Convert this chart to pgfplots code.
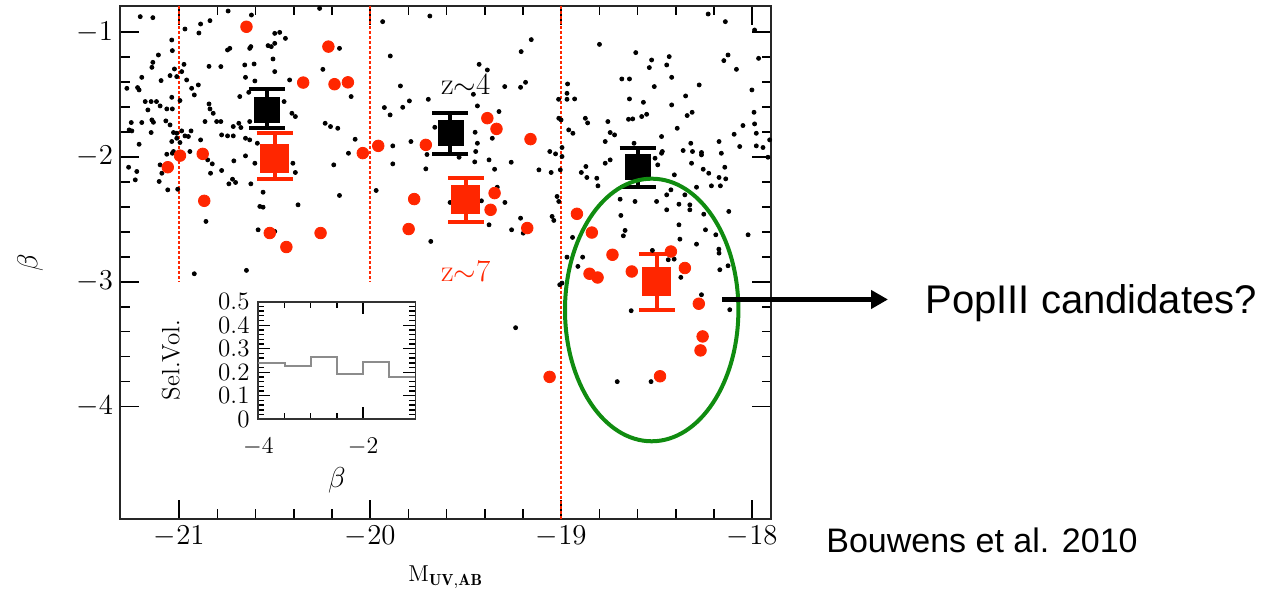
\documentclass[border=0pt]{standalone}
\usepackage{pgfplots}
\pgfplotsset{compat=1.18}
\usepackage{fontspec}
\newfontfamily\arial{Liberation Sans}
\usetikzlibrary{arrows.meta}
\definecolor{pred}{RGB}{255,38,0}
\definecolor{pgreen}{RGB}{16,140,16}

\pgfplotstableread{
x y
-21.204 -0.877
-21.138 -0.885
-20.970 -0.976
-20.888 -0.936
-20.839 -0.909
-20.897 -1.008
-20.744 -0.832
-20.622 -0.864
-21.039 -1.064
-21.036 -1.149
-21.109 -1.184
-21.138 -1.243
-21.143 -1.283
-21.025 -1.296
-20.975 -1.259
-20.987 -1.317
-21.196 -1.363
-21.095 -1.389
-21.048 -1.349
-21.013 -1.357
-20.961 -1.384
-20.900 -1.424
-20.935 -1.451
-20.921 -1.504
-21.274 -1.451
-21.218 -1.445
-21.210 -1.464
-21.039 -1.523
-21.178 -1.557
-21.147 -1.557
-21.119 -1.557
-21.164 -1.624
-21.100 -1.592
-21.065 -1.616
-21.036 -1.616
-20.996 -1.549
-20.844 -1.576
-20.839 -1.616
-20.822 -1.651
-21.143 -1.704
-21.135 -1.723
-21.070 -1.712
-21.048 -1.744
-21.251 -1.725
-21.196 -1.725
-20.865 -1.717
-20.804 -1.717
-20.782 -1.717
-21.262 -1.784
-21.248 -1.792
-21.147 -1.805
-21.030 -1.805
-21.013 -1.811
-20.987 -1.792
-20.938 -1.792
-20.970 -1.832
-20.952 -1.837
-21.039 -1.877
-21.013 -1.851
-20.996 -1.885
-20.888 -1.864
-21.210 -1.899
-20.778 -1.824
-20.747 -1.832
-20.717 -1.832
-20.688 -1.731
-20.717 -1.757
-20.677 -1.765
-20.653 -1.851
-20.631 -1.864
-20.591 -1.891
-20.631 -1.717
-20.636 -1.483
-20.683 -1.517
-20.844 -1.275
-20.782 -1.277
-20.657 -1.264
-20.608 -1.256
-20.653 -1.363
-20.604 -1.392
-20.747 -1.144
-20.735 -1.131
-20.631 -1.131
-20.625 -1.117
-20.535 -1.109
-20.518 -1.117
-20.500 -1.091
-20.500 -1.011
-20.474 -1.003
-20.444 -1.051
-20.509 -1.216
-20.500 -1.317
-20.422 -1.384
-20.451 -1.557
-20.410 -1.651
-20.392 -1.677
-20.248 -1.299
-20.161 -1.131
-20.236 -1.731
-20.208 -1.757
-20.170 -1.771
-20.265 -0.811
-21.030 -1.957
-20.944 -1.957
-19.935 -0.917
-19.688 -0.872
-19.895 -1.192
-20.100 -1.517
-19.842 -1.432
-19.795 -1.552
-19.830 -1.603
-19.926 -1.605
-19.896 -1.664
-19.696 -1.539
-19.430 -1.259
-19.387 -1.304
-19.460 -1.499
-19.296 -1.437
-19.213 -1.443
-19.187 -1.403
-19.210 -1.157
-19.157 -1.061
-19.439 -1.592
-19.326 -1.637
-20.079 -1.859
-19.882 -1.912
-19.787 -1.877
-19.662 -1.763
-19.451 -1.803
-19.361 -1.851
-19.439 -1.891
-19.448 -1.957
-19.060 -1.957
-19.030 -1.976
-19.013 -1.691
-20.114 -1.971
-18.231 -0.856
-18.141 -0.917
-17.988 -0.984
-18.800 -1.099
-18.610 -1.165
-18.527 -1.224
-18.539 -1.285
-18.435 -1.197
-18.448 -1.264
-18.422 -1.363
-18.683 -1.376
-18.643 -1.376
-18.513 -1.437
-18.278 -1.424
-18.127 -1.184
-18.149 -1.229
-18.083 -1.299
-17.967 -1.211
-18.002 -1.464
-18.967 -1.416
-18.970 -1.491
-19.014 -1.539
-18.970 -1.539
-18.930 -1.536
-18.643 -1.536
-18.570 -1.563
-18.422 -1.584
-18.349 -1.512
-18.315 -1.643
-18.341 -1.669
-18.553 -1.659
-18.579 -1.677
-18.626 -1.696
-18.648 -1.699
-18.756 -1.717
-18.874 -1.691
-18.862 -1.728
-19.001 -1.704
-18.961 -1.784
-18.939 -1.811
-18.744 -1.805
-18.721 -1.824
-18.770 -1.877
-18.475 -1.837
-18.393 -1.771
-17.991 -1.643
-17.988 -1.736
-18.049 -1.749
-17.979 -1.811
-18.095 -1.819
-17.909 -1.864
-18.174 -1.877
-18.066 -1.917
-17.979 -1.912
-17.944 -1.925
-18.322 -1.891
-18.362 -1.949
-18.313 -1.957
-18.266 -1.965
-18.162 -1.971
-18.619 -1.891
-18.471 -1.957
-18.996 -1.925
-21.265 -2.083
-21.222 -2.117
-21.230 -2.184
-21.091 -2.131
-21.100 -2.064
-21.105 -2.197
-21.060 -2.264
-21.008 -2.259
-21.065 -1.979
-21.036 -1.971
-20.851 -2.024
-20.827 -2.056
-20.836 -2.131
-20.778 -2.109
-20.714 -2.032
-20.653 -1.992
-20.604 -2.051
-20.721 -2.179
-20.705 -2.205
-20.740 -2.216
-20.625 -2.216
-20.561 -2.283
-20.578 -2.397
-20.561 -2.403
-20.405 -2.051
-20.392 -2.125
-20.378 -2.384
-20.191 -2.064
-20.161 -2.309
-20.860 -2.517
-20.587 -2.584
-20.500 -2.597
-20.921 -2.936
-20.648 -2.909
-19.882 -2.056
-19.703 -1.981
-19.535 -2.003
-19.453 -2.040
-19.378 -2.024
-19.349 -2.099
-19.262 -2.043
-19.709 -2.096
-19.969 -2.269
-19.582 -2.365
-19.418 -2.352
-19.335 -2.243
-19.295 -2.365
-19.378 -2.544
-19.260 -2.584
-19.213 -2.491
-19.199 -2.611
-19.683 -2.677
-19.117 -2.104
-19.053 -2.125
-19.022 -2.317
-19.013 -2.357
-19.048 -2.477
-19.039 -2.509
-19.008 -3.024
-18.996 -1.997
-19.005 -2.104
-18.871 -2.077
-18.895 -2.125
-18.866 -2.165
-18.814 -2.171
-18.770 -2.051
-18.744 -2.024
-18.808 -2.232
-18.509 -2.011
-18.475 -1.971
-18.495 -2.064
-18.266 -1.984
-18.318 -2.051
-18.257 -2.099
-18.228 -2.131
-18.144 -2.083
-18.174 -2.165
-18.139 -2.176
-18.167 -2.232
-18.214 -2.232
-18.292 -2.243
-18.408 -2.144
-18.426 -2.264
-18.448 -2.304
-18.353 -2.304
-18.327 -2.384
-18.327 -2.424
-18.384 -2.379
-18.448 -2.424
-18.501 -2.357
-18.614 -2.357
-18.692 -2.339
-18.688 -2.469
-18.254 -2.459
-18.123 -2.437
-18.384 -2.544
-18.245 -2.584
-18.191 -2.624
-18.022 -2.624
-18.666 -2.589
-18.675 -2.632
-18.379 -2.659
-18.292 -2.699
-18.523 -2.749
-18.175 -2.739
-18.174 -2.771
-18.888 -2.803
-18.970 -2.803
-18.913 -2.877
-18.440 -2.824
-18.409 -2.819
-18.127 -2.872
-18.170 -2.904
-18.374 -2.965
-18.941 -2.645
-18.996 -3.011
-18.266 -3.104
-17.918 -2.003
-19.239 -3.368
-18.707 -3.800
-18.530 -3.800
-18.634 -3.232
-18.118 -3.224
}\blackdots

\pgfplotstableread{
x y
-20.648 -0.958
-20.219 -1.117
-20.351 -1.405
-20.187 -1.418
-21.060 -2.083
-20.996 -1.990
-20.877 -1.976
-20.869 -2.352
-20.526 -2.610
-20.439 -2.722
-20.260 -2.610
-20.117 -1.403
-19.958 -1.912
-20.039 -1.970
-19.709 -1.904
-19.387 -1.690
-19.339 -1.776
-19.161 -1.858
-19.770 -2.338
-19.799 -2.578
-19.349 -2.290
-19.370 -2.424
-19.178 -2.570
-18.918 -2.456
-18.840 -2.606
-18.732 -2.784
-18.426 -2.758
-18.631 -2.918
-18.852 -2.936
-18.810 -2.966
-18.353 -2.890
-18.280 -3.176
-18.260 -3.438
-18.271 -3.550
-18.483 -3.757
-19.061 -3.762
}\reddots

\begin{document}
\begin{tikzpicture}
\useasboundingbox (0,0) rectangle (635.5pt,298.5pt);
\begin{axis}[
  at={(60pt,39pt)}, anchor=south west, scale only axis,
  width=325.7pt, height=256.6pt,
  xmin=-21.31, xmax=-17.90, ymin=-4.9, ymax=-0.79,
  xtick={-21,-20,-19,-18}, ytick={-4,-3,-2,-1},
  minor tick num=4,
  tick align=inside, xtick pos=both, ytick pos=both,
  major tick length=9.5pt, minor tick length=4.8pt,
  tick style={black, line width=0.8pt},
  axis line style={black!85, line width=0.9pt},
  ticklabel style={font=\fontsize{14}{14}\selectfont},
  xlabel={$\mathrm{M}_{\mathbf{UV,AB}}$},
  xlabel style={at={(axis description cs:0.5,-0.113)}, anchor=center, font=\fontsize{11.5}{11.5}\selectfont},
  ylabel={$\beta$},
  ylabel style={at={(axis description cs:-0.138,0.5)}, anchor=center, font=\fontsize{15}{15}\selectfont},
]
\addplot[pred, mark=none, line width=1pt, dash pattern=on 1.5pt off 1pt] coordinates {(-21,-0.79) (-21,-3)};
\addplot[pred, mark=none, line width=1pt, dash pattern=on 1.5pt off 1pt] coordinates {(-20,-0.79) (-20,-3)};
\addplot[pred, mark=none, line width=1pt, dash pattern=on 1.5pt off 1pt] coordinates {(-19.002,-0.79) (-19.002,-4.9)};
\addplot[only marks, mark=*, mark size=1pt, black] table {\blackdots};
\addplot[only marks, mark=*, mark size=2.9pt, pred, mark options={draw=pred, fill=pred}] table {\reddots};
\addplot[only marks, mark=square*, mark size=6.25pt, black,
  error bars/.cd, y dir=both, y explicit, error mark=|,
  error bar style={line width=2pt, black},
  error mark options={line width=2pt, mark size=9pt, black}]
  coordinates {(-20.54,-1.62) += (0,0.16) -= (0,0.15)
               (-19.58,-1.81) += (0,0.16) -= (0,0.17)
               (-18.60,-2.08) += (0,0.15) -= (0,0.16)};
\addplot[only marks, mark=square*, mark size=7pt, pred, mark options={draw=pred, fill=pred},
  error bars/.cd, y dir=both, y explicit, error mark=|,
  error bar style={line width=2pt, pred},
  error mark options={line width=2pt, mark size=9pt, pred}]
  coordinates {(-20.50,-2.01) += (0,0.20) -= (0,0.17)
               (-19.50,-2.34) += (0,0.17) -= (0,0.18)
               (-18.50,-3.00) += (0,0.22) -= (0,0.23)};
\node[font=\fontsize{15.5}{15.5}\selectfont, black] at (axis cs:-19.50,-1.416) {z$\sim$4};
\node[font=\fontsize{15.5}{15.5}\selectfont, pred] at (axis cs:-19.50,-2.92) {z$\sim$7};
\end{axis}

\begin{axis}[
  at={(129.15pt,88.85pt)}, anchor=south west, scale only axis,
  width=78.6pt, height=58.8pt,
  xmin=-4, xmax=-1, ymin=0, ymax=0.5,
  xtick={-4,-2}, minor x tick num=3,
  ytick={0,0.1,0.2,0.3,0.4,0.5}, yticklabels={0,0.1,0.2,0.3,0.4,0.5},
  minor y tick num=4,
  tick align=inside, xtick pos=both, ytick pos=both,
  major tick length=6pt, minor tick length=3pt,
  tick style={black, line width=0.7pt},
  axis line style={black!80, line width=0.9pt},
  axis background/.style={fill=white},
  ticklabel style={font=\fontsize{12.5}{12.5}\selectfont, inner sep=1pt},
  yticklabel style={xshift=-3.2pt},
  xticklabel style={yshift=-8.2pt},
  xlabel={$\beta$},
  xlabel style={at={(axis description cs:0.5,-0.52)}, anchor=center, font=\fontsize{14}{14}\selectfont},
  ylabel={Sel.Vol.},
  ylabel style={at={(axis description cs:-0.557,0.504)}, anchor=center, font=\fontsize{12.5}{12.5}\selectfont},
]
\addplot[const plot, black!45, line width=1pt] coordinates {(-4,0.241) (-3.5,0.227) (-3,0.266) (-2.5,0.191) (-2,0.242) (-1.5,0.181) (-1,0.181)};
\end{axis}

\draw[pgreen, line width=2pt] (325.85pt,143.5pt) ellipse [x radius=43.35pt, y radius=65.65pt];
\draw[black, line width=2.3pt, -{Triangle[length=8.5pt,width=9pt]}] (361pt,148.75pt) -- (444pt,148.75pt);
\node[anchor=base west, inner sep=0pt, font=\arial\fontsize{20}{20}\selectfont] at (462.5pt,141.85pt) {PopIII candidates?};
\node[anchor=base west, inner sep=0pt, font=\arial\fontsize{17}{17}\selectfont] at (413pt,22.15pt) {Bouwens et al. 2010};
\end{tikzpicture}
\end{document}
